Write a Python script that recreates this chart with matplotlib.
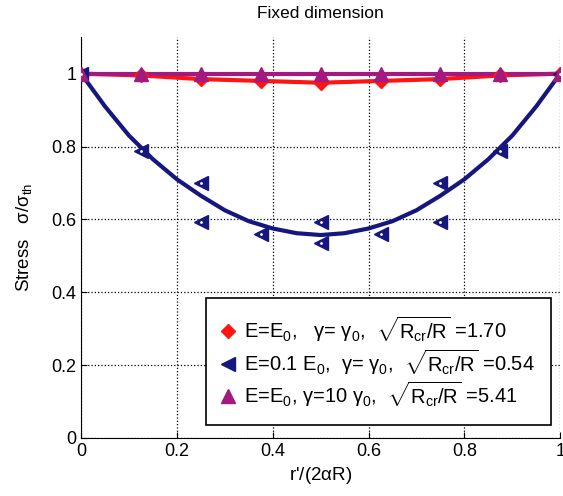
import numpy as np
import matplotlib.pyplot as plt

plt.rcParams.update({'font.family': ['Liberation Sans', 'DejaVu Sans'],
                     'mathtext.fontset': 'custom',
                     'mathtext.rm': 'Liberation Sans',
                     'mathtext.it': 'Liberation Sans',
                     'mathtext.bf': 'Liberation Sans:bold',
                     'font.size': 12})

# ---------- data ----------
x_pts = [0, 0.125, 0.25, 0.375, 0.5, 0.625, 0.75, 0.875, 1]

red_pts = [1.0, 0.995, 0.985, 0.98, 0.975, 0.98, 0.985, 0.995, 1.0]

blue_x = [0, 0.125, 0.25, 0.25, 0.375, 0.5, 0.5, 0.625, 0.75, 0.75, 0.875, 1]
blue_y = [1.0, 0.787, 0.70, 0.593, 0.561, 0.593, 0.534, 0.561, 0.70, 0.593,
          0.787, 1.0]

mag_pts = [1.0, 1.0, 1.0, 1.0, 1.0, 1.0, 1.0, 1.0, 1.0]

curve_x = [0, 0.05, 0.1, 0.15, 0.2, 0.25, 0.3, 0.35, 0.4, 0.45, 0.5,
           0.55, 0.6, 0.65, 0.7, 0.75, 0.8, 0.85, 0.9, 0.95, 1]
blue_curve = [1.0, 0.91, 0.83, 0.765, 0.71, 0.665, 0.625, 0.595, 0.575,
              0.562, 0.557, 0.562, 0.575, 0.595, 0.625, 0.665, 0.71, 0.765,
              0.83, 0.91, 1.0]

labels = [r'E=E$_0$,   $\gamma$= $\gamma_0$,  $\sqrt{R_{cr}/R}$ =1.70',
          r'E=0.1 E$_0$,  $\gamma$= $\gamma_0$,  $\sqrt{R_{cr}/R}$ =0.54',
          r'E=E$_0$, $\gamma$=10 $\gamma_0$,  $\sqrt{R_{cr}/R}$ =5.41']

xticks = [0, 0.2, 0.4, 0.6, 0.8, 1]
xtick_labels = ['0', '0.2', '0.4', '0.6', '0.8', '1']
yticks = [0, 0.2, 0.4, 0.6, 0.8, 1]
ytick_labels = ['0', '0.2', '0.4', '0.6', '0.8', '1']

RED = '#ff1414'
BLUE = '#16167f'
MAG = '#a3197f'

fig = plt.figure(figsize=(5.63, 4.96), dpi=100)
ax = fig.add_axes([0.144, 0.117, 0.851, 0.808])

# lines
ax.plot(curve_x, blue_curve, color=BLUE, lw=3, zorder=3)
ax.plot(x_pts, red_pts, color=RED, lw=3, zorder=4)
ax.plot(x_pts, mag_pts, color=MAG, lw=3, zorder=4)

# markers (filled, with a tiny white centre dot like the original)
h1, = ax.plot(x_pts, red_pts, 'D', color=RED, ms=7.5, ls='none', zorder=5)
h2, = ax.plot(blue_x, blue_y, '<', color=BLUE, ms=10, ls='none', zorder=5)
h3, = ax.plot(x_pts, mag_pts, '^', color=MAG, ms=10, ls='none', zorder=6)
ax.plot(blue_x, blue_y, '.', color='white', ms=2, ls='none', zorder=7)

ax.set_xlim(0, 1)
ax.set_ylim(0, 1.1)
ax.set_xticks(xticks)
ax.set_xticklabels(xtick_labels)
ax.set_yticks(yticks)
ax.set_yticklabels(ytick_labels)
ax.tick_params(direction='in', length=4, labelsize=13)
ax.grid(True, ls=':', color='k', lw=0.9)
for s in ['top', 'right']:
    ax.spines[s].set_visible(False)

ax.set_title('Fixed dimension', fontsize=12.5, pad=14)
ax.set_xlabel("r'/(2$\\alpha$R)", fontsize=13.5)
ax.set_ylabel(r'Stress   $\sigma/\sigma_{th}$', fontsize=13.5, labelpad=12)

leg = ax.legend([h1, h2, h3], labels, loc='lower right',
                bbox_to_anchor=(0.981, 0.032), fontsize=14.5, frameon=True,
                fancybox=False, edgecolor='k', framealpha=1,
                handlelength=0.6, handletextpad=0.5, labelspacing=0.12,
                borderpad=0.8, borderaxespad=0)
leg.get_frame().set_linewidth(1.2)

fig.savefig('out.png', dpi=100)
